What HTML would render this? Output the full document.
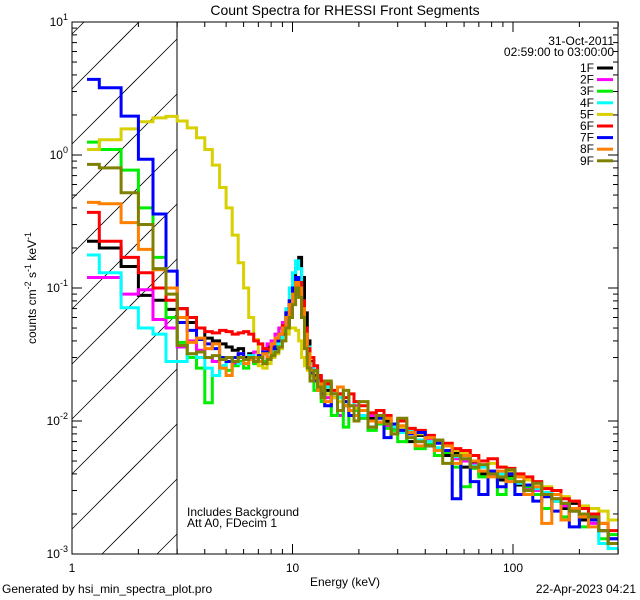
<!DOCTYPE html>
<html><head><meta charset="utf-8"><style>
html,body{margin:0;padding:0;background:#fff;overflow:hidden;width:640px;height:600px;}
svg{display:block;}
svg text{font-family:"Liberation Sans",sans-serif;font-size:12px;fill:#000;}
</style></head><body>
<svg id="chart" width="640" height="600" xmlns="http://www.w3.org/2000/svg">
<defs>
<clipPath id="pc"><rect x="72" y="22" width="546" height="532"/></clipPath>
</defs>
<rect width="640" height="600" fill="#fff"/>
<text x="345" y="15" text-anchor="middle" style="font-size:14px">Count Spectra for RHESSI Front Segments</text>
<g id="hatch"></g>
<line x1="177" y1="22" x2="177" y2="554" stroke="#000" stroke-width="1"/>
<g id="series" clip-path="url(#pc)"></g>
<rect x="72" y="22" width="546" height="532" fill="none" stroke="#000" stroke-width="1"/>
<g id="axes"></g>
<text x="345" y="586" text-anchor="middle">Energy (keV)</text>
<text transform="translate(36,288) rotate(-90)" text-anchor="middle">counts cm<tspan dy="-5" style="font-size:9px">-2</tspan><tspan dy="5"> s</tspan><tspan dy="-5" style="font-size:9px">-1</tspan><tspan dy="5"> keV</tspan><tspan dy="-5" style="font-size:9px">-1</tspan></text>
<text x="614" y="45" text-anchor="end">31-Oct-2011</text>
<text x="614" y="56" text-anchor="end">02:59:00 to 03:00:00</text>
<g id="legend"></g>
<text x="187" y="516">Includes Background</text>
<text x="187" y="527">Att A0, FDecim 1</text>
<text x="2" y="593">Generated by hsi_min_spectra_plot.pro</text>
<text x="636" y="593" text-anchor="end">22-Apr-2023 04:21</text>
</svg>
<script>
const edges=[1.17,1.33,1.67,2,2.33,2.67,3,3.33,3.67,4,4.33,4.67,5,5.33,5.67,6,6.33,6.67,7,7.33,7.67,8,8.33,8.67,9,9.33,9.67,10,10.33,10.67,11,11.33,11.67,12,12.5,13,13.5,14,15,16,17,18,19,20,22,24,26,28,30,33,36,40,44,48,53,58,64,70,77,85,93,102,112,123,135,150,165,180,200,220,245,270,300];
const names=["1F","2F","3F","4F","5F","6F","7F","8F","9F"];
const colors=["#000000","#ff00ff","#00ee00","#00ffff","#d8d000","#ff0000","#0000ff","#ff8000","#808000"];
const s1F=[.225,.2,.145,.088,.081,.069, .07,.055,.05,.042,.04,.038,.036,.034,.035,.03,.032,.028,.03,.033,.036,.03,.035,.04,.045,.05,.065,.09,.14,.17,.12,.065,.04, .028,.022,.021,.018,.017,.015,.016,.013,.012,.0125,.011,.0105,.0095,.01,.0088,.0085,.007,.0078,.0065,.006,.0055,.0058,.0045,.0048,.004,.0042,.0036,.0038,.0033,.003,.0031,.0027,.0025,.0022,.0024,.0018,.0019,.0015,.0012];
const s2F=[.12,.12,.09,.097,.058,.05, .036,.04,.034,.03,.028,.026,.03,.027,.032,.029,.03,.033,.03,.035,.038,.04,.045,.05,.055,.065,.08,.1,.11,.09,.06,.04,.032, .025,.02,.022,.016,.015,.016,.011,.014,.012,.013,.0105,.011,.0098,.0092,.009,.0085,.0082,.007,.0072,.006,.0058,.0052,.005,.0047,.0045,.004,.0041,.0036,.0034,.0031,.003,.0028,.0026,.0023,.0021,.002,.0017,.0015,.0013];
const s3F=[1.25,1.1,.77,.40,.17,.06, .039,.03,.025,.0137,.022,.025,.024,.026,.028,.025,.029,.027,.03,.028,.033,.032,.036,.04,.048,.06,.075,.09,.11,.1,.065,.04,.03, .022,.017,.02,.014,.016,.011,.015,.009,.012,.012,.0105,.0085,.0095,.0088,.0085,.007,.008,.0062,.0068,.0055,.0058,.0045,.0032,.0044,.0038,.0042,.0028,.0037,.0028,.0032,.0028,.0022,.0025,.0019,.0022,.0016,.0018,.0013,.0014];
const s4F=[.177,.13,.071,.05,.045,.028, .028,.032,.03,.025,.022,.026,.028,.03,.027,.029,.031,.028,.03,.032,.03,.034,.038,.042,.05,.07,.1,.13,.16,.14,.08,.05,.036, .027,.024,.02,.017,.018,.016,.015,.013,.012,.014,.011,.01,.0105,.0095,.009,.0082,.0085,.0072,.007,.0063,.006,.0054,.0052,.0046,.0045,.0042,.004,.0035,.0034,.003,.0031,.0029,.0025,.0024,.0021,.0019,.0018,.0012,.0011];
const s5F=[1.1,1.3,1.57,1.78,1.9,1.95, 1.8,1.6,1.35,1.1,.84,.57,.40,.25,.155,.10,.06,.041,.026,.025,.027,.03,.032,.035,.04,.045,.05,.05,.048,.04,.03,.026,.024, .022,.021,.019,.018,.016,.015,.014,.014,.013,.0125,.012,.0115,.011,.0105,.0095,.009,.0088,.008,.0075,.007,.0066,.006,.0058,.0055,.005,.0048,.0045,.0042,.004,.0036,.0034,.0032,.003,.0027,.0025,.0023,.0022,.0021,.0018];
const s6F=[.37,.225,.17,.13,.10,.081, .07,.06,.05,.047,.046,.048,.047,.045,.046,.047,.045,.04,.038,.035,.034,.036,.04,.045,.052,.065,.08,.1,.12,.11,.08,.05,.035, .03,.026,.022,.02,.019,.017,.016,.015,.016,.014,.013,.0115,.012,.011,.0095,.01,.0088,.0085,.0078,.0072,.0068,.0062,.006,.0055,.005,.0052,.0045,.0044,.004,.0038,.0035,.0031,.003,.0026,.0025,.0022,.002,.0017,.0015];
const s7F=[3.7,3.2,1.96,.93,.36,.134, .055,.048,.041,.038,.035,.03,.028,.03,.032,.029,.03,.028,.031,.033,.03,.035,.04,.045,.05,.065,.08,.1,.12,.1,.06,.042,.03, .023,.02,.018,.016,.013,.016,.012,.014,.011,.01,.012,.009,.0105,.0075,.0095,.0085,.008,.0082,.0065,.0068,.006,.0026,.0055,.0035,.0028,.0042,.0032,.004,.0028,.0033,.0025,.0027,.0021,.0024,.0016,.002,.0018,.0015,.0013];
const s8F=[.44,.43,.31,.195,.137,.10, .06,.039,.042,.035,.038,.025,.022,.028,.03,.027,.029,.03,.028,.032,.03,.038,.042,.045,.05,.06,.075,.09,.11,.1,.07,.045,.032, .024,.021,.017,.019,.014,.016,.018,.013,.012,.011,.012,.01,.0098,.0105,.008,.0092,.0082,.0065,.0075,.006,.0065,.0048,.0055,.005,.0042,.0038,.0042,.0035,.0038,.0028,.0032,.0017,.0028,.0018,.0022,.0019,.0016,.0017,.0012];
const s9F=[.85,.80,.52,.30,.14,.09, .037,.032,.033,.03,.031,.029,.03,.028,.03,.029,.03,.028,.03,.027,.029,.031,.033,.036,.04,.05,.06,.075,.1,.085,.06,.035,.025, .02,.024,.018,.015,.02,.016,.012,.017,.013,.01,.014,.009,.011,.0095,.008,.0105,.0075,.007,.0065,.0072,.0048,.0055,.0052,.0045,.0047,.004,.0038,.0043,.0035,.003,.0034,.0028,.0026,.0024,.0021,.002,.0019,.0015,.0012];
const seriesData=[s1F,s2F,s3F,s4F,s5F,s6F,s7F,s8F,s9F];
const xTickLabels=["1","10","100"];
const yTickExps=[1,0,-1,-2,-3];

const NS="http://www.w3.org/2000/svg";
const X0=72,X1=618,Y0=22,Y1=554,XH=177;
const xDec=220.5, yDec=133;
function xs(e){return X0+Math.log10(e)*xDec;}
function ys(v){return Y0+(1-Math.log10(v))*yDec;}
function mk(tag,attrs,parent){const el=document.createElementNS(NS,tag);for(const k in attrs)el.setAttribute(k,attrs[k]);parent.appendChild(el);return el;}

// hatch lines clipped manually: y = c - (x - X0)
const hg=document.getElementById('hatch');
for(let k=-2;k<14;k++){
  const c=Y1-k*55+30;
  let xa=X0, ya=c;
  if(ya>Y1){xa=X0+(ya-Y1);ya=Y1;}
  let xb=XH, yb=c-(XH-X0);
  if(yb<Y0){xb=X0+(c-Y0);yb=Y0;}
  if(xa>=xb||xa>XH||xb<X0)continue;
  const ln=mk('line',{x1:xa,y1:ya,x2:xb,y2:yb,stroke:'#000','stroke-width':0.8},hg);
  
  
}

const sg=document.getElementById('series');
seriesData.forEach((vals,si)=>{
  let d='';
  for(let i=0;i<vals.length;i++){
    const xa=xs(edges[i]).toFixed(1),xb=Math.min(X1,xs(edges[i+1])).toFixed(1),y=Math.min(Y1,ys(vals[i])).toFixed(1);
    d+=(i===0?'M':'L')+xa+','+y+'L'+xb+','+y;
  }
  const p=mk('path',{d:d,fill:'none',stroke:colors[si],'stroke-width':3,'stroke-linejoin':'miter'},sg);
  
  
});

const ag=document.getElementById('axes');
for(let dcd=0;dcd<3;dcd++){
  for(let m=1;m<=9;m++){
    const e=m*Math.pow(10,dcd); if(e>300)break;
    const x=xs(e), len=m===1?10:5;
    const t1=mk('line',{x1:x,y1:Y1,x2:x,y2:Y1-len,stroke:'#000'},ag);
    
    
    const t2=mk('line',{x1:x,y1:Y0,x2:x,y2:Y0+len,stroke:'#000'},ag);
    
    
  }
}
xTickLabels.forEach((lab,i)=>{
  const t=mk('text',{x:xs(Math.pow(10,i)),y:572,'text-anchor':'middle'},ag);
  t.textContent=lab;
  
  
});
for(let p=-3;p<1;p++){
  for(let m=1;m<=9;m++){
    const v=m*Math.pow(10,p), y=ys(v), len=m===1?10:5;
    const t1=mk('line',{x1:X0,y1:y,x2:X0+len,y2:y,stroke:'#000'},ag);
    
    
    const t2=mk('line',{x1:X1,y1:y,x2:X1-len,y2:y,stroke:'#000'},ag);
    
    
  }
}
yTickExps.forEach(p=>{
  const y=ys(Math.pow(10,p));
  const t=mk('text',{x:X0-4,y:y+4,'text-anchor':'end'},ag);
  
  
  const a=document.createElementNS(NS,'tspan');a.textContent='10';t.appendChild(a);
  const b=document.createElementNS(NS,'tspan');b.setAttribute('dy','-6');b.setAttribute('style','font-size:9px');b.textContent=String(p);t.appendChild(b);
});

const lg=document.getElementById('legend');
names.forEach((n,i)=>{
  const y=68+i*11.6;
  const t=mk('text',{x:594,y:y+4,'text-anchor':'end'},lg);
  t.textContent=n;
  
  
  const l=mk('line',{x1:597,y1:y,x2:613,y2:y,stroke:colors[i],'stroke-width':3},lg);
  
  
});
</script>
</body></html>
